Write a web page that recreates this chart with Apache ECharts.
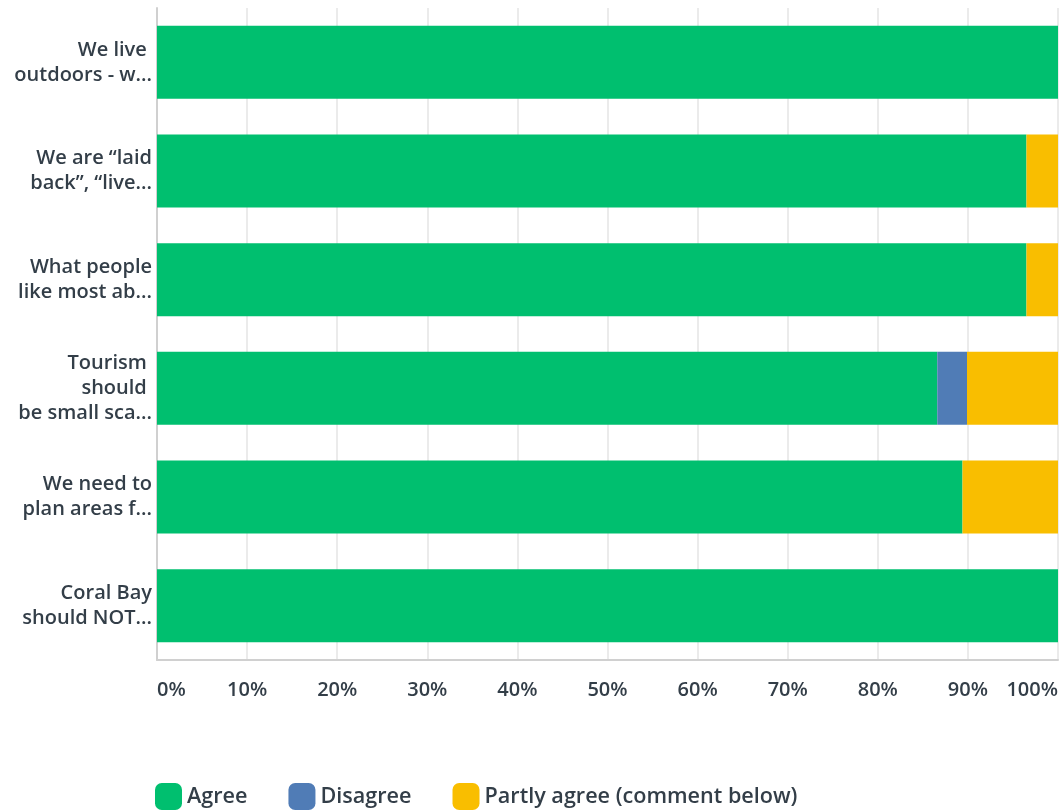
<!DOCTYPE html>
<html>
<head>
<meta charset="utf-8">
<script src="https://cdn.jsdelivr.net/npm/echarts@6/dist/echarts.min.js"></script>
<style>html,body{margin:0;padding:0;background:#fff;overflow:hidden;}#c{width:1061px;height:812px;}</style>
</head>
<body>
<div id="c"></div>
<script>
var categories = [
  "We live \noutdoors - w...",
  "We are “laid\nback”, “live...",
  "What people\nlike most ab...",
  "Tourism \nshould \nbe small sca...",
  "We need to\nplan areas f...",
  "Coral Bay\nshould NOT..."
];
var agree = [100, 96.5, 96.5, 86.6, 89.4, 100];
var disagree = [0, 0, 0, 3.3, 0, 0];
var partly = [0, 3.5, 3.5, 10.1, 10.6, 0];
var seriesNames = ["Agree", "Disagree", "Partly agree (comment below)"];
var colors = ["#00BF6F", "#507CB6", "#F9BE00"];
var tickLabels = ["0%", "10%", "20%", "30%", "40%", "50%", "60%", "70%", "80%", "90%", "100%"];

var chart = echarts.init(document.getElementById('c'), null, {renderer: 'canvas'});
var font = '"Open Sans", "Noto Sans", sans-serif';
var values = [agree, disagree, partly];
var series = seriesNames.map(function (n, i) {
  return {
    name: n, type: 'bar', stack: 'total', data: values[i],
    itemStyle: {color: colors[i]}, barWidth: 73,
    emphasis: {disabled: true}
  };
});
chart.setOption({
  animation: false,
  textStyle: {fontFamily: font},
  grid: {left: 157, width: 904, top: 8, height: 652, containLabel: false},
  xAxis: {
    type: 'value', min: 0, max: 100, interval: 10,
    axisLine: {show: true, lineStyle: {color: '#d0d0d0', width: 2}},
    axisTick: {show: false},
    splitLine: {show: true, lineStyle: {color: '#ebebeb', width: 2}},
    axisLabel: {
      margin: 20, color: '#333e48', fontSize: 20, fontWeight: 600, fontFamily: font,
      alignMinLabel: 'left', alignMaxLabel: 'right',
      formatter: function (v) { return tickLabels[Math.round(v / 10)]; }
    }
  },
  yAxis: {
    type: 'category', data: categories, inverse: true,
    axisLine: {show: true, lineStyle: {color: '#d0d0d0', width: 2}},
    axisTick: {show: false},
    axisLabel: {
      margin: 5, color: '#333e48', fontSize: 20, fontWeight: 600, lineHeight: 25,
      fontFamily: font, align: 'right'
    }
  },
  legend: {
    left: 150, top: 778, itemWidth: 27, itemHeight: 27, itemGap: 41,
    icon: 'roundRect',
    textStyle: {color: '#333e48', fontSize: 21.6, fontWeight: 600, fontFamily: font},
    data: seriesNames
  },
  series: series
});
</script>
</body>
</html>
